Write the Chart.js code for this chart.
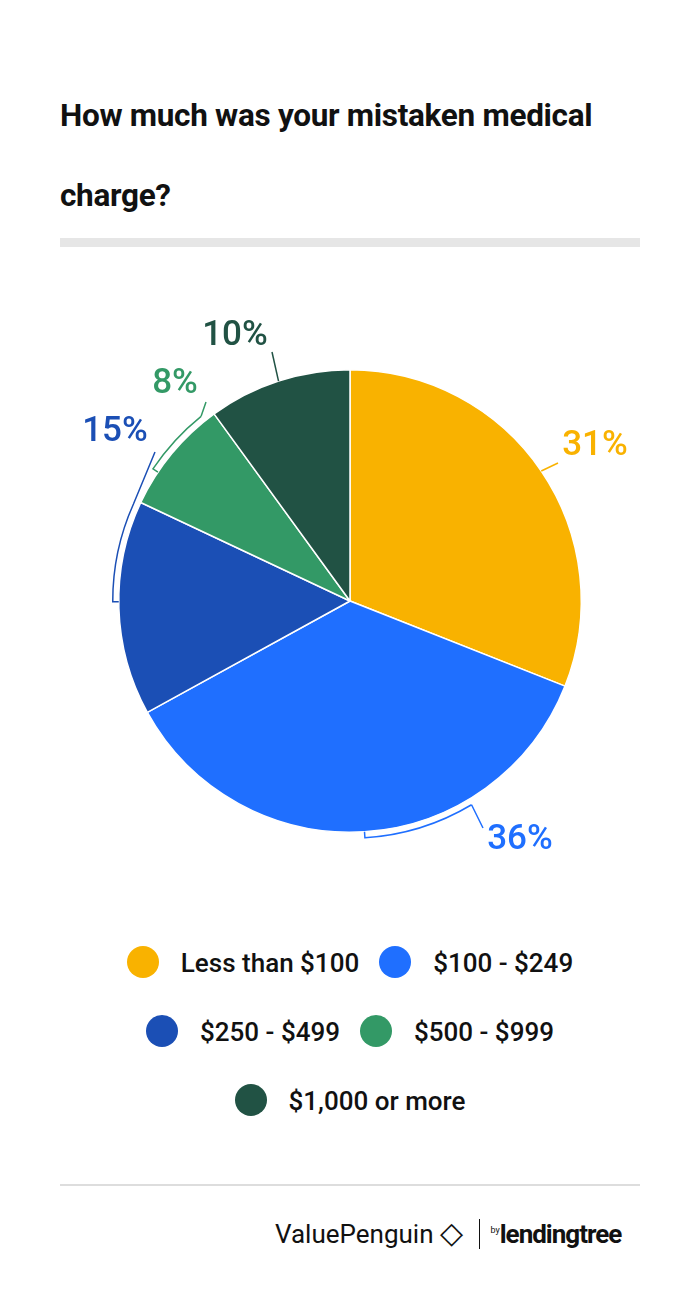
<!DOCTYPE html>
<html>
<head>
<meta charset="utf-8">
<script src="https://cdn.jsdelivr.net/npm/chart.js@4"></script>
<style>
  body { margin:0; background:#fff; font-family: Roboto, "Noto Sans", sans-serif; }
  #page { position:relative; width:700px; height:1292px; }
  h1 { position:absolute; left:60px; top:76px; margin:0; width:620px; font-size:31.5px; font-weight:bold; line-height:80px; color:#111; letter-spacing:-0.3px; }
  #bar { position:absolute; left:60px; top:238px; width:580px; height:9px; background:#e6e6e6; }
  #wrap { position:absolute; left:0; top:270px; width:700px; height:630px; }
  #legend { position:absolute; left:30px; top:930px; width:640px; text-align:center; font-size:26px; font-weight:500; color:#111; }
  .row { height:69px; line-height:66px; }
  .item { display:inline-block; margin:0 10px; }
  .dot { display:inline-block; width:32px; height:32px; border-radius:50%; vertical-align:middle; margin-right:22px; position:relative; top:-3px; }
  #rule { position:absolute; left:60px; top:1184px; width:580px; height:2px; background:#ddd; }
  #logo { position:absolute; left:275px; top:1215px; font-size:26px; color:#111; }
</style>
</head>
<body>
<div id="page">
  <h1>How much was your mistaken medical charge?</h1>
  <div id="bar"></div>
  <div id="wrap"><canvas id="pieChart"></canvas></div>
  <div id="legend"></div>
  <div id="rule"></div>
  <div id="logo">ValuePenguin <span style="font-size:30px">&#9671;</span> <span style="border-left:1.5px solid #111;margin:0 10px;"></span><sup style="font-size:9px">by</sup><b style="letter-spacing:-1px">lendingtree</b></div>
</div>
<script>
var categories = ["Less than $100", "$100 - $249", "$250 - $499", "$500 - $999", "$1,000 or more"];
var values = [31, 36, 15, 8, 10];
var colors = ["#F9B200", "#1F6FFF", "#1B4FB5", "#339966", "#215244"];
var legendRows = [[0, 1], [2, 3], [4]];

// label text spots and leader ends (canvas coords); bracket [leader end, far end] as slice fractions
var labelPos = [[595, 176], [520, 570], [115, 162], [175, 114], [235, 66]];
var leaderEnd = [[558, 193], [483, 558], [155, 182], [206, 132], [272, 82]];
var bracket = [[0.5, 0.5], [0.29, 0.5], [0.98, 0.53], [0.9, 0.3], [0.5, 0.5]];

var legendEl = document.getElementById("legend");
legendRows.forEach(function (r) {
  var row = document.createElement("div");
  row.className = "row";
  r.forEach(function (i) {
    row.innerHTML += '<span class="item"><span class="dot" style="background:' + colors[i] + '"></span>' + categories[i] + '</span>';
  });
  legendEl.appendChild(row);
});

var labelPlugin = {
  id: "labels",
  afterDraw: function (chart) {
    var c = chart.ctx;
    chart.getDatasetMeta(0).data.forEach(function (arc, i) {
      var p = arc.getProps(["x", "y", "startAngle", "endAngle", "outerRadius"], true);
      var span = p.endAngle - p.startAngle;
      var a0 = p.startAngle + span * bracket[i][0];
      var a1 = p.startAngle + span * bracket[i][1];
      var r = p.outerRadius;
      c.save();
      c.strokeStyle = colors[i];
      c.lineWidth = 1.5;
      c.beginPath();
      if (a0 === a1) {
        c.moveTo(p.x + Math.cos(a0) * r, p.y + Math.sin(a0) * r);
      } else {
        var rr = r + 6;
        c.moveTo(p.x + Math.cos(a1) * r, p.y + Math.sin(a1) * r);
        c.arc(p.x, p.y, rr, a1, a0, a1 > a0);
        c.moveTo(p.x + Math.cos(a0) * rr, p.y + Math.sin(a0) * rr);
      }
      c.lineTo(leaderEnd[i][0], leaderEnd[i][1]);
      c.stroke();
      c.fillStyle = colors[i];
      c.font = "500 35px Roboto";
      c.textAlign = "center";
      c.textBaseline = "middle";
      c.fillText(values[i] + "%", labelPos[i][0], labelPos[i][1]);
      c.restore();
    });
  }
};

var ctx = document.getElementById("pieChart").getContext("2d");
new Chart(ctx, {
  type: "pie",
  data: {
    labels: categories,
    datasets: [{ data: values, backgroundColor: colors, borderColor: "#fff", borderWidth: 1.5 }]
  },
  options: {
    responsive: true,
    maintainAspectRatio: false,
    animation: false,
    layout: { padding: { top: 99, bottom: 67 } },
    plugins: { legend: { display: false }, tooltip: { enabled: false } }
  },
  plugins: [labelPlugin]
});
</script>
</body>
</html>
